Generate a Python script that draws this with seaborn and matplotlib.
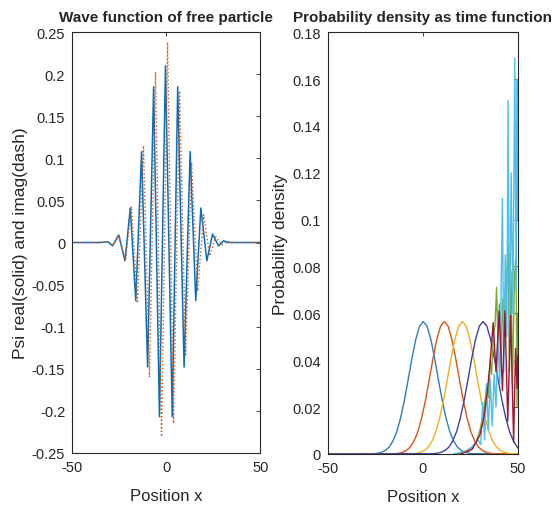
import numpy as np
import pandas as pd
import matplotlib
matplotlib.use('Agg')
import matplotlib.pyplot as plt
from matplotlib.ticker import FuncFormatter, MultipleLocator
import seaborn as sns

real_x = [-50, -35, -31, -28.5, -25.3, -21.9, -19.1, -16.2, -13.1, -9.9, -6.7, -3.6, -0.4,
          3.2, 6.1, 9.5, 12.7, 15.7, 18.4, 21.6, 24.6, 27.8, 30.5, 33, 50]
real_y = [0, 0, 0.001, -0.004, 0.009, -0.0216, 0.041, -0.069, 0.108, -0.148, 0.185, -0.207, 0.21,
          -0.207, 0.185, -0.148, 0.108, -0.069, 0.041, -0.0216, 0.010, -0.004, 0.002, 0, 0]

imag_x = [-50, -35, -31.5, -28.3, -25, -21.7, -18.5, -15.3, -12.1, -8.9, -5.7, -2.5, 0.7,
          3.9, 7.1, 10.3, 13.5, 16.7, 19.9, 23.1, 26.3, 29.5, 32.5, 35, 50]
imag_y = [0, 0, 0.001, -0.003, 0.008, -0.022, 0.043, -0.072, 0.115, -0.16, 0.203, -0.231, 0.238,
          -0.215, 0.18, -0.135, 0.095, -0.058, 0.033, -0.016, 0.007, -0.003, 0.001, 0, 0]

# ---- right panel: density profile of the packet (offset from its centre), and centres
prof_off = [-26, -24, -22, -20, -18, -16, -14, -12, -10, -8, -6, -4, -2, 0,
            2, 4, 6, 8, 10, 12, 14, 16, 18, 20, 22, 24, 26]
prof_val = [0.0001, 0.0003, 0.0007, 0.0015, 0.0029, 0.0055, 0.0094, 0.0152, 0.0227, 0.0315,
            0.0407, 0.0488, 0.0545, 0.0565, 0.0545, 0.0488, 0.0407, 0.0315, 0.0227, 0.0152,
            0.0094, 0.0055, 0.0029, 0.0015, 0.0007, 0.0003, 0.0001]
centres = [0.2, 11.3, 20.8, 31.7]
centre_colors = ['#2E7EBB', '#D95319', '#EDB120', '#3F43A0']

# later times, packet hitting the wall at x = 50
green_x = [18, 24, 28, 30, 32, 33.5, 34.5, 35.5, 36.2, 37, 38, 38.8, 39.5, 40.3, 41.2, 42, 43,
           44, 44.9, 45.6, 46.4, 47.2, 48.2, 49, 49.6, 50]
green_y = [0, 0.001, 0.005, 0.010, 0.018, 0.028, 0.024, 0.040, 0.034, 0.050, 0.055, 0.071, 0.048,
           0.064, 0.040, 0.066, 0.045, 0.07, 0.089, 0.035, 0.078, 0.030, 0.075, 0.085, 0.02, 0.06]

cyan_x = [16, 22, 26, 29, 30.5, 31.5, 32.5, 33.5, 34.5, 35.5, 36.5, 37.5, 38.5, 39.5, 40.5, 41.2,
          41.9, 42.6, 43.4, 44.2, 44.9, 45.6, 46.5, 47.4, 48.4, 49.1, 49.7, 50]
cyan_y = [0, 0.001, 0.003, 0.006, 0.004, 0.022, 0.006, 0.03, 0.01, 0.032, 0.012, 0.034, 0.02, 0.05,
          0.03, 0.07, 0.109, 0.035, 0.085, 0.05, 0.151, 0.045, 0.12, 0.06, 0.169, 0.07, 0.16, 0.1]

red_x = [20, 26, 30, 32, 34, 35.5, 37, 38.5, 40.2, 41.9, 43.2, 44.7, 46.2, 47.8, 48.8, 49.6, 50]
red_y = [0, 0.002, 0.008, 0.015, 0.027, 0.04, 0.056, 0.035, 0.061, 0.027, 0.061, 0.014, 0.059,
         0.005, 0.045, 0.028, 0.042]

sns.set_style('white')
plt.rcParams['font.family'] = ['Liberation Sans', 'DejaVu Sans']
plt.rcParams['axes.unicode_minus'] = False

fig = plt.figure(figsize=(5.55, 5.10), dpi=100)
ax1 = fig.add_axes([0.130, 0.110, 0.339, 0.825])
ax2 = fig.add_axes([0.591, 0.108, 0.342, 0.827])

fmt = FuncFormatter(lambda v, p: f'{round(v, 4) + 0.0:g}')


def matlab_axes(ax):
    for s in ax.spines.values():
        s.set_color('#262626')
        s.set_linewidth(0.8)
    ax.tick_params(direction='in', length=3, width=0.6, top=True, right=True,
                   labelsize=10.5, colors='#262626')
    ax.tick_params(axis='y', pad=5)
    ax.tick_params(axis='x', pad=5)
    ax.yaxis.set_major_formatter(fmt)
    ax.set_xlim(-50, 50)
    ax.xaxis.set_major_locator(MultipleLocator(50))


# left
sns.lineplot(x=real_x, y=real_y, ax=ax1, color='#0072BD', lw=1.1, sort=False)
sns.lineplot(x=imag_x, y=imag_y, ax=ax1, color='#D95319', lw=1.0, sort=False, linestyle=':')
matlab_axes(ax1)
ax1.set_ylim(-0.25, 0.25)
ax1.yaxis.set_major_locator(MultipleLocator(0.05))
ax1.set_title('Wave function of free particle', fontsize=11, fontweight='bold', pad=8)
ax1.set_xlabel('Position x', fontsize=12, color='#262626', labelpad=10)
ax1.set_ylabel('Psi real(solid) and imag(dash)', fontsize=12.5, color='#262626', labelpad=3)

# right
for c, col in zip(centres, centre_colors):
    px = [-50] + [o + c for o in prof_off] + [60]
    py = [0] + prof_val + [0]
    sns.lineplot(x=px, y=py, ax=ax2, color=col, lw=1.0, sort=False)
sns.lineplot(x=green_x, y=green_y, ax=ax2, color='#77AC30', lw=1.0, sort=False)
sns.lineplot(x=cyan_x, y=cyan_y, ax=ax2, color='#4DBEEE', lw=1.0, sort=False)
sns.lineplot(x=red_x, y=red_y, ax=ax2, color='#A2142F', lw=1.0, sort=False)
matlab_axes(ax2)
ax2.set_ylim(0, 0.18)
ax2.yaxis.set_major_locator(MultipleLocator(0.02))
ax2.set_title('Probability density as time function', fontsize=11, fontweight='bold', pad=8)
ax2.set_xlabel('Position x', fontsize=12, color='#262626', labelpad=10)
ax2.set_ylabel('Probability density', fontsize=12.5, color='#262626', labelpad=3)

fig.savefig('out.png', dpi=100)
